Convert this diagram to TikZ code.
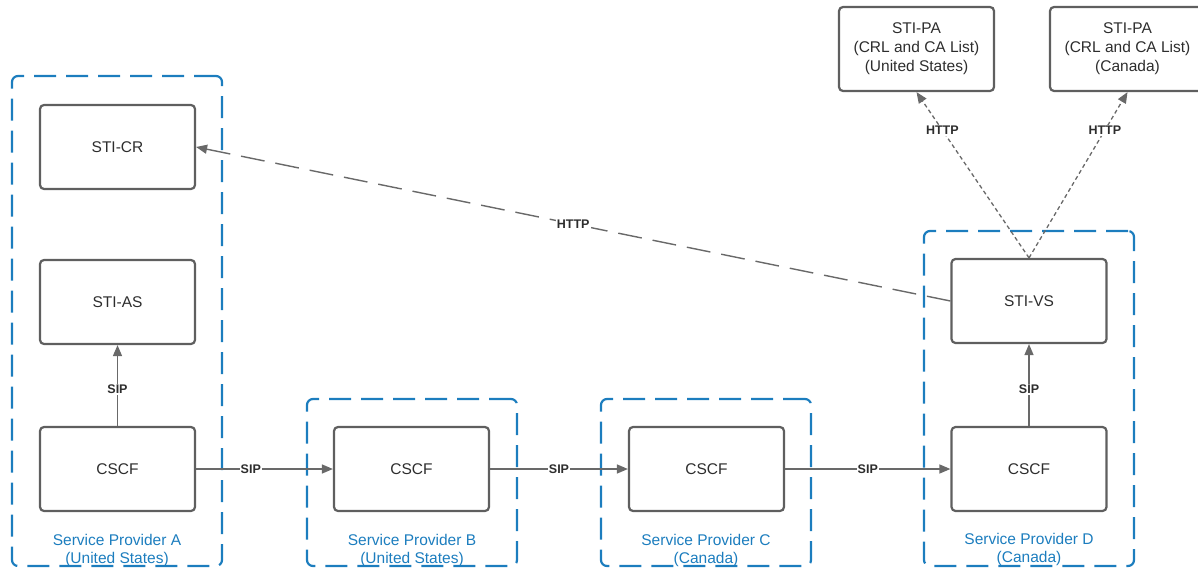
\documentclass[tikz,border=0pt]{standalone}
\usepackage{fontspec}
\setmainfont{Liberation Sans}
\usetikzlibrary{arrows.meta}
\definecolor{spblue}{RGB}{28,125,190}
\definecolor{boxgray}{RGB}{95,95,95}
\definecolor{linegray}{RGB}{105,105,105}
\definecolor{txtgray}{RGB}{45,45,45}

\begin{document}
\begin{tikzpicture}[x=1pt,y=-1pt,
  elem/.style={draw=boxgray, line width=2.2pt, rounded corners=4pt,
    minimum width=155pt, minimum height=84pt, align=center,
    text=txtgray, font=\fontsize{15.5}{19}\selectfont},
  provider/.style={draw=spblue, line width=2.2pt, rounded corners=6pt,
    dash pattern=on 22pt off 10pt},
  sptext/.style={text=spblue, align=center, font=\fontsize{15.5}{18}\selectfont},
  msg/.style={draw=linegray, line width=1.4pt, -{Triangle[length=11pt,width=9pt]}},
  query/.style={msg, dash pattern=on 24pt off 11pt},
  fetch/.style={msg, line width=1.3pt, dash pattern=on 4pt off 3pt},
  proto/.style={fill=white, inner sep=1pt, text=txtgray,
    font=\fontsize{12.5}{14}\bfseries\selectfont}]
\path[use as bounding box, clip] (0,0) rectangle (1198,569);
%
% service provider frames
\node[provider, minimum width=210pt, minimum height=490pt] (SPA) at (117,321) {};
\node[provider, minimum width=210pt, minimum height=167pt] (SPB) at (412,482.5) {};
\node[provider, minimum width=210pt, minimum height=167pt] (SPC) at (706,482.5) {};
\node[provider, minimum width=210pt, minimum height=335pt] (SPD) at (1029,398.5) {};
%
\node[sptext] (SPAtxt) at (117,550.5) {Service Provider A\\(United States)};
\node[sptext] (SPBtxt) at (412,550.5) {Service Provider B\\(United States)};
\node[sptext] (SPCtxt) at (706,550.5) {Service Provider C\\(Canada)};
\node[sptext] (SPDtxt) at (1029,549) {Service Provider D\\(Canada)};
%
% provider A
\node[elem] (CR) at (117.5,147) {STI-CR};
\node[elem] (AS) at (117.5,302) {STI-AS};
\node[elem] (CSCFA) at (117.5,469) {CSCF};
%
% providers B and C
\node[elem] (CSCFB) at (411.5,469) {CSCF};
\node[elem] (CSCFC) at (706.5,469) {CSCF};
%
% provider D
\node[elem] (VS) at (1029,301) {STI-VS};
\node[elem] (CSCFD) at (1029,469) {CSCF};
%
% policy administrators
\node[elem] (PAUS) at (916.5,49) {%
  STI-PA\\(CRL and CA List)\\(United States)};
\node[elem] (PACA) at (1127.5,49) {%
  STI-PA\\(CRL and CA List)\\(Canada)};
%
\draw[msg] (CSCFA) -- node[proto, pos=0.45] {SIP} (AS);
\draw[msg] (CSCFA) -- node[proto, pos=0.4] {SIP} (CSCFB);
\draw[msg] (CSCFB) -- node[proto] {SIP} (CSCFC);
\draw[msg] (CSCFC) -- node[proto] {SIP} (CSCFD);
\draw[msg] (CSCFD) -- node[proto, pos=0.45] {SIP} (VS);
\draw[query] (VS.west) -- node[proto] {HTTP} (CR.east);
\draw[fetch] (VS.north) -- node[proto, pos=0.77] {HTTP} (PAUS.south);
\draw[fetch] (VS.north) -- node[proto, pos=0.77] {HTTP} (PACA.south);
\end{tikzpicture}
\end{document}
